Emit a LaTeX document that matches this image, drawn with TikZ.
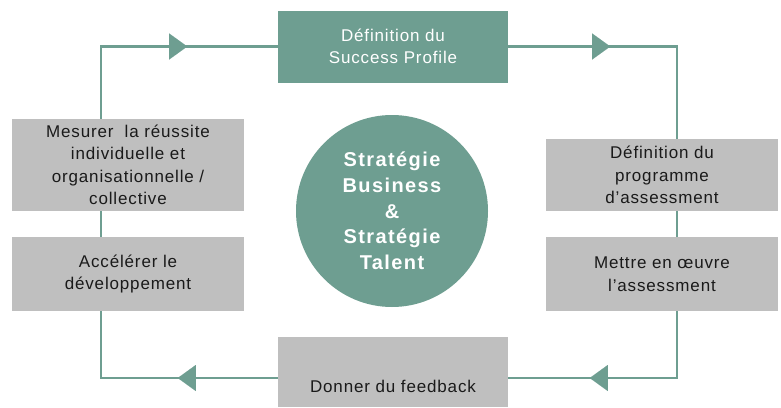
\documentclass[tikz,border=0pt]{standalone}
\usepackage{fontspec}
\setmainfont{Liberation Sans}
\newfontfamily\labfont[LetterSpace=5]{Liberation Sans}
\newfontfamily\cfont[LetterSpace=7]{Liberation Sans}
\usetikzlibrary{decorations.markings,arrows.meta}
\definecolor{tealc}{HTML}{6E9E91}
\definecolor{boxgray}{HTML}{BFBFBF}
\definecolor{txtdark}{HTML}{1A1A1A}
\tikzset{
  box/.style={rectangle, fill=boxgray, text=txtdark, minimum width=232pt, align=center,
    inner sep=0pt, font=\labfont\fontsize{17}{22.5}\selectfont},
  topbox/.style={box, fill=tealc, text=white, minimum width=230pt},
  flow/.style={draw=tealc, line width=2.2pt},
  mk/.style={postaction={decorate}, decoration={markings,
    mark=at position #1 with {\arrow{Triangle[width=26pt,length=18pt,line width=0.01pt,fill=tealc]}}}}
}
\begin{document}
\begin{tikzpicture}[x=1pt,y=-1pt]
\useasboundingbox (0,0) rectangle (781,407);
\coordinate (tl) at (101,46.5);
\coordinate (tr) at (677,46.5);
\coordinate (bl) at (101,378);
\coordinate (br) at (677,378);

\node[topbox, minimum height=72pt] (top) at (393,46.5) {Définition du\\Success Profile};
\node[box, minimum height=92pt] (L1) at (128,165) {Mesurer \ la réussite\\individuelle et\\organisationnelle /\\collective};
\node[box, minimum height=74pt] (L2) at (128,274) {Accélérer le\\développement};
\node[box, minimum height=72pt] (R1) at (662,175) {Définition du\\programme\\d’assessment};
\node[box, minimum height=74pt] (R2) at (662,274) {Mettre en œuvre\\l’assessment};
\node[box, minimum width=230pt, text height=55pt, text depth=15pt] (bot) at (393,372) {Donner du feedback};

\node[circle, fill=tealc, minimum size=192pt, inner sep=0pt, text=white, align=center,
  font=\cfont\bfseries\fontsize{20}{25.7}\selectfont] (c) at (392,211)
  {Stratégie\\Business\\\&\\Stratégie\\Talent};

\draw[flow, mk=158.5pt] (L1.north -| tl) |- (top.west);
\draw[flow, mk=102pt] (top.east) -| (R1.north -| tr);
\draw[flow] (R1.south -| tr) -- (R2.north -| tr);
\draw[flow, mk=154pt] (R2.south -| tr) |- (bot.east |- br);
\draw[flow, mk=100pt] (bot.west |- bl) -| (L2.south -| bl);
\draw[flow] (L2.north -| tl) -- (L1.south -| tl);
\end{tikzpicture}
\end{document}
